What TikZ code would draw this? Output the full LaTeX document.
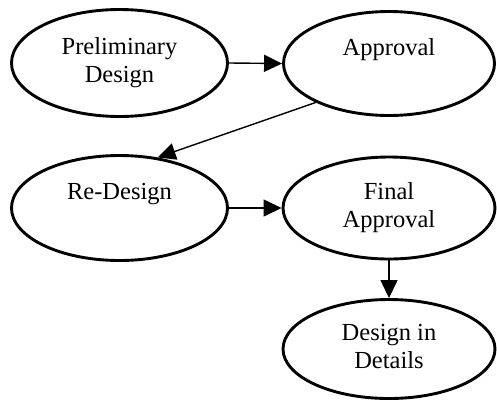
\documentclass[tikz,border=0pt]{standalone}
\usepackage{fontspec}
\setmainfont{Liberation Serif}
\usetikzlibrary{shapes.geometric,arrows.meta}
\tikzset{
  stage/.style={ellipse, draw, line width=2.9pt, align=center, inner sep=0pt,
    font=\fontsize{24.5}{28}\selectfont},
  flow/.style={-{Triangle[length=18pt,width=17pt]}, line width=1.4pt}
}
\begin{document}
\begin{tikzpicture}[x=1pt,y=-1pt]
  \useasboundingbox (0,0) rectangle (497,405);
  % process stages
  \node[stage, minimum width=216pt, minimum height=107pt] (pre) at (119.5,63)
    {\strut Preliminary\\\strut Design};
  \node[stage, minimum width=211pt, minimum height=104pt] (apr) at (389,63.5)
    {\strut Approval\\\strut};
  \node[stage, minimum width=216pt, minimum height=105pt] (red) at (119.5,208)
    {\strut Re-Design\\\strut};
  \node[stage, minimum width=212pt, minimum height=102pt] (fin) at (389,208)
    {\strut Final\\\strut Approval};
  \node[stage, minimum width=212pt, minimum height=99pt] (det) at (389,349)
    {\strut Design in\\\strut Details};
  % transitions
  \draw[flow] (pre.east) -- (apr.west);
  \draw[flow] (apr.208.7) -- (red.53.7);
  \draw[flow] (red.east) -- (fin.west);
  \draw[flow] (fin.south) -- (det.north);
\end{tikzpicture}
\end{document}
